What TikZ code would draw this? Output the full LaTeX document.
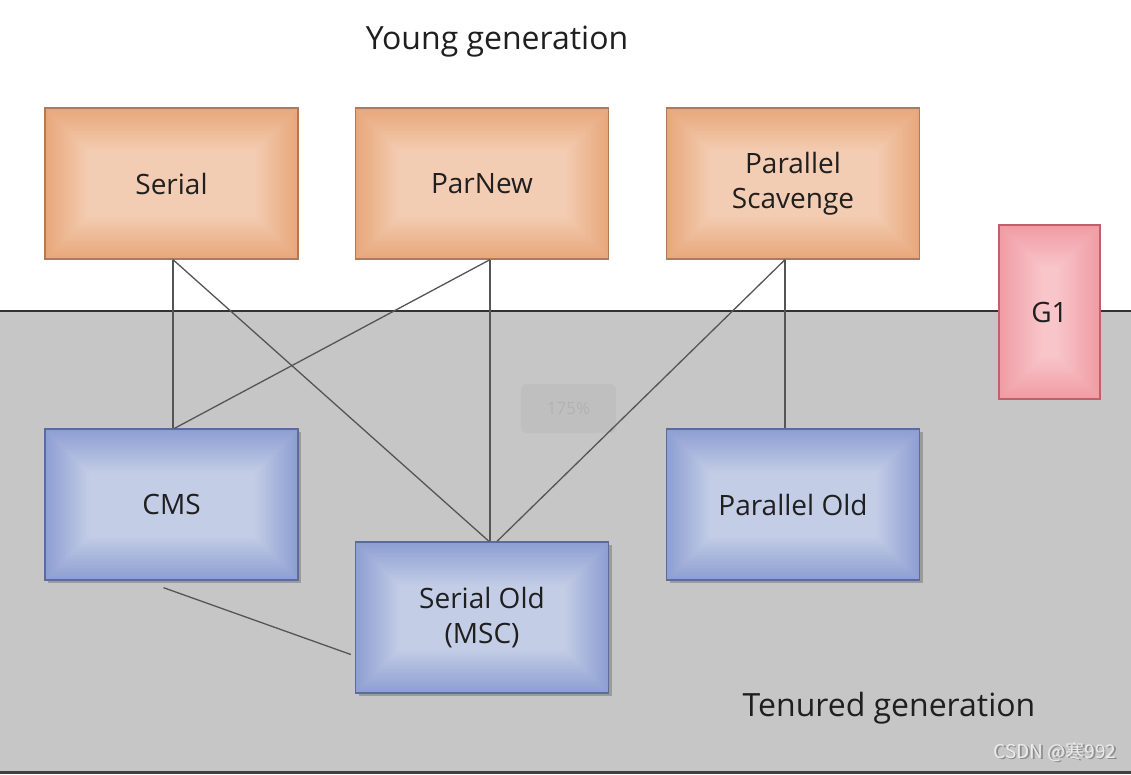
\documentclass[tikz,border=0pt]{standalone}
\usepackage{fontspec}
\setmainfont{Open Sans}
\newfontfamily\cjkfont{Noto Sans CJK SC}
\usetikzlibrary{calc,shadows}
\definecolor{bggray}{HTML}{C6C6C6}
\definecolor{oout}{HTML}{E8A77A}
\definecolor{oin}{HTML}{F3CDB3}
\definecolor{oline}{HTML}{B07A58}
\definecolor{bout}{HTML}{8D9ED2}
\definecolor{bin}{HTML}{C3CDE6}
\definecolor{bline}{HTML}{5C6C98}
\definecolor{pout}{HTML}{F09CA4}
\definecolor{pin}{HTML}{F8C6CA}
\definecolor{pline}{HTML}{C0606A}
\definecolor{conn}{HTML}{555555}
\newcommand\gradfill[2]{%
  \foreach \k in {0,...,29}{%
    \pgfmathsetmacro\pp{\k*100/29}%
    \pgfmathsetmacro\dd{\k*1.5}%
    \fill[#2!\pp!#1] ($(path picture bounding box.south west)+(\dd pt,\dd pt)$)
      rectangle ($(path picture bounding box.north east)+(-\dd pt,-\dd pt)$);
  }%
}
\tikzset{
  gcbox/.style={minimum width=253pt, minimum height=151pt, inner sep=0pt,
    align=center, font=\fontsize{28}{35}\selectfont, text=black!88, line width=1.3pt},
  orangebox/.style={gcbox, draw=oline, path picture={\gradfill{oout}{oin}}},
  bluebox/.style={gcbox, draw=bline, drop shadow={shadow xshift=3pt, shadow yshift=-3pt, opacity=0.35, fill=black!70},
    path picture={\gradfill{bout}{bin}}},
  pinkbox/.style={gcbox, minimum width=101pt, minimum height=174pt, draw=pline, path picture={\gradfill{pout}{pin}}},
  connector/.style={draw=conn, line width=1.3pt},
  title/.style={font=\fontsize{32}{38}\selectfont, text=black!88, inner sep=0pt}
}
\begin{document}
\begin{tikzpicture}[x=1pt,y=-1pt]
\useasboundingbox (0,0) rectangle (1131,774);
% background
\fill[white] (0,0) rectangle (1131,774);
\fill[bggray] (0,311) rectangle (1131,771);
\draw[black!80, line width=2pt] (0,311) -- (1131,311);
\fill[black!75] (0,771) rectangle (1131,774);
% zoom watermark
\node[fill=black!25, rounded corners=6pt, minimum width=95pt, minimum height=49pt,
  text=black!30, font=\fontsize{17}{20}\selectfont] (zoomw) at (568.5,408.5) {175\%};
% titles
\node[title] (young) at (497,42) {Young generation};
\node[title] (tenured) at (889,708) {Tenured generation};
% boxes
\node[orangebox] (serial) at (171.5,183.5) {Serial};
\node[orangebox] (parnew) at (482,183.5) {ParNew};
\node[orangebox] (pscav) at (793,183.5) {Parallel\\Scavenge};
\node[pinkbox] (g1) at (1049.5,312) {G1};
\node[bluebox] (cms) at (171.5,504.5) {CMS};
\node[bluebox] (sold) at (482,617.5) {Serial Old\\(MSC)};
\node[bluebox] (pold) at (793,504.5) {Parallel Old};
% connectors
\draw[connector] ([xshift=1.5pt]serial.south) -- ([xshift=1.5pt]cms.north);
\draw[connector] ([xshift=1.5pt]serial.south) -- ([xshift=7pt]sold.north);
\draw[connector] ([xshift=8pt]parnew.south) -- ([xshift=3pt]cms.north);
\draw[connector] ([xshift=8pt]parnew.south) -- ([xshift=8pt]sold.north);
\draw[connector] ([xshift=-8pt]pscav.south) -- ([xshift=15pt]sold.north);
\draw[connector] ([xshift=-8pt]pscav.south) -- ([xshift=-8pt]pold.north);
\draw[connector] ([xshift=-8pt,yshift=-7pt]cms.south) -- ([xshift=-4pt,yshift=-37pt]sold.west);
% csdn watermark
\node[text=black!45, font=\cjkfont\fontsize{19}{22}\selectfont, inner sep=0pt] (csdnshadow) at (1056.5,753.5) {CSDN @寒992};
\node[text=white!92!black, font=\cjkfont\fontsize{19}{22}\selectfont, inner sep=0pt] (csdn) at (1055,752) {CSDN @寒992};
\end{tikzpicture}
\end{document}
